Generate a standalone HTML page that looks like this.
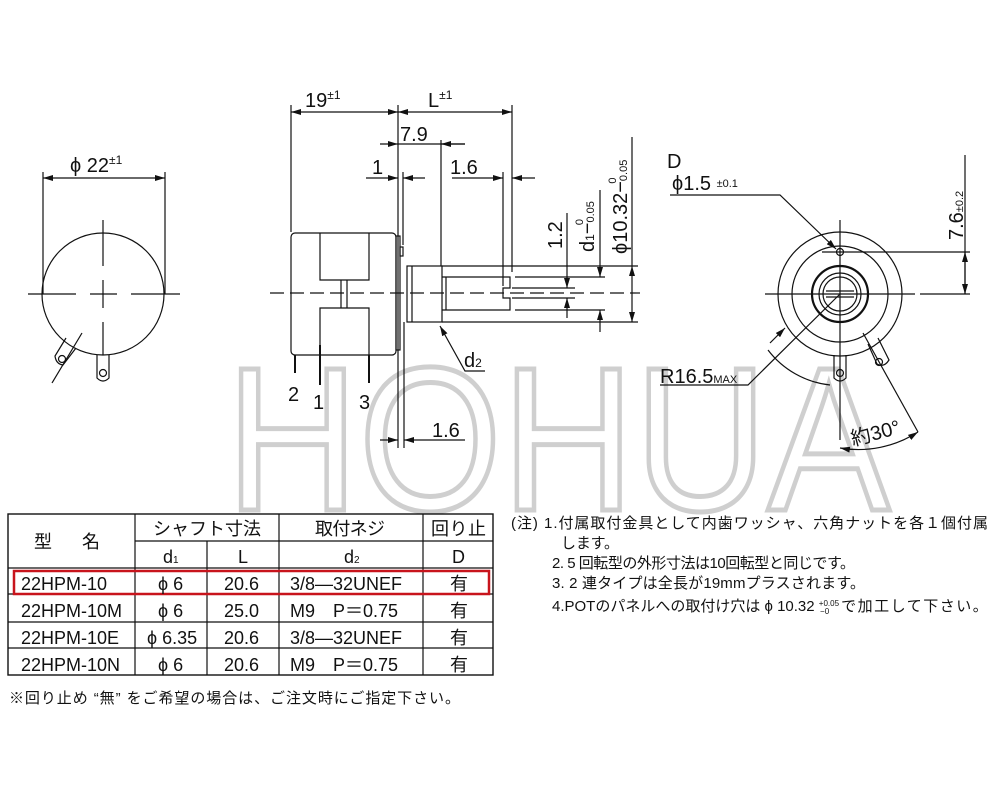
<!DOCTYPE html>
<html><head><meta charset="utf-8"><style>
html,body{margin:0;padding:0;background:#fff;width:1000px;height:800px;overflow:hidden}
svg{display:block}
text{font-family:"Liberation Sans","Noto Sans CJK JP",sans-serif;fill:#111}
</style></head><body>
<svg width="1000" height="800" viewBox="0 0 1000 800" xmlns="http://www.w3.org/2000/svg">
<defs>
<marker id="a" viewBox="0 0 10 6" refX="10" refY="3" markerWidth="10" markerHeight="6" orient="auto-start-reverse" markerUnits="userSpaceOnUse"><path d="M0,0 L10,3 L0,6z" fill="#111"/></marker>
</defs>
<!-- watermark -->
<text x="226" y="510" font-size="205" textLength="664" lengthAdjust="spacingAndGlyphs" style="fill:#fff;stroke:#cfcfcf;stroke-width:5">HOHUA</text>

<g stroke="#111" stroke-width="1.2" fill="none">
<!-- LEFT VIEW -->
<circle cx="103" cy="294" r="61"/>
<line x1="28" y1="294" x2="76" y2="294"/><line x1="90" y1="294" x2="117" y2="294"/><line x1="131" y1="294" x2="180" y2="294"/>
<line x1="103" y1="220" x2="103" y2="266"/><line x1="103" y1="280" x2="103" y2="308"/><line x1="103" y1="322" x2="103" y2="355"/>
<line x1="43" y1="172" x2="43" y2="294"/><line x1="165" y1="172" x2="165" y2="294"/>
<line x1="43" y1="178" x2="165" y2="178" marker-start="url(#a)" marker-end="url(#a)"/>
<path d="M97,355 V378 Q103,384 109,378 V355"/><circle cx="103" cy="373" r="3.5"/>
<path d="M66,338 L55,356 Q56,364 63,365 L76,348"/><circle cx="62" cy="359" r="3.5"/>
<line x1="82" y1="333" x2="52" y2="383"/>

<!-- SIDE VIEW -->
<line x1="291" y1="105" x2="291" y2="232"/>
<line x1="398" y1="105" x2="398" y2="448"/>
<line x1="512" y1="105" x2="512" y2="272"/>
<line x1="291" y1="112" x2="398" y2="112" marker-start="url(#a)" marker-end="url(#a)"/>
<line x1="398" y1="112" x2="512" y2="112" marker-start="url(#a)" marker-end="url(#a)"/>
<line x1="441" y1="140" x2="441" y2="266"/>
<line x1="380" y1="144" x2="398" y2="144" marker-end="url(#a)"/>
<line x1="398" y1="144" x2="465" y2="144"/>
<line x1="441" y1="144" x2="465" y2="144" marker-start="url(#a)"/>
<line x1="403" y1="172" x2="403" y2="245"/>
<line x1="366" y1="178" x2="398" y2="178" marker-end="url(#a)"/>
<line x1="425" y1="178" x2="403" y2="178" marker-end="url(#a)"/>
<line x1="503" y1="172" x2="503" y2="286"/>
<line x1="452" y1="178" x2="503" y2="178" marker-end="url(#a)"/>
<line x1="535" y1="178" x2="512" y2="178" marker-end="url(#a)"/>
<rect x="291" y="233" width="105" height="122" rx="4"/>
<path d="M320,233 V280 H369 V233 M320,355 V308 H369 V355 M341,280 V308 M347,280 V308"/>
<rect x="396" y="236" width="4" height="114"/>
<rect x="400" y="247" width="3" height="9"/>
<rect x="407" y="266" width="35" height="56"/>
<line x1="412" y1="266" x2="412" y2="322"/>
<path d="M442,277 H510 V288 H503 V298 H510 V310 H442"/>
<line x1="446" y1="277" x2="446" y2="310"/>
<line x1="515" y1="277" x2="605" y2="277"/><line x1="515" y1="310" x2="605" y2="310"/>
<line x1="512" y1="288" x2="575" y2="288"/><line x1="512" y1="298" x2="575" y2="298"/>
<line x1="442" y1="266" x2="638" y2="266"/><line x1="442" y1="322" x2="638" y2="322"/>
<line x1="270" y1="293" x2="640" y2="293" stroke-dasharray="14,6"/>
<line x1="567" y1="213" x2="567" y2="288" marker-end="url(#a)"/>
<line x1="567" y1="318" x2="567" y2="298" marker-end="url(#a)"/>
<line x1="600" y1="190" x2="600" y2="277" marker-end="url(#a)"/>
<line x1="600" y1="332" x2="600" y2="310" marker-end="url(#a)"/>
<line x1="632" y1="137" x2="632" y2="266"/>
<line x1="632" y1="266" x2="632" y2="322" marker-start="url(#a)" marker-end="url(#a)"/>
<path d="M485,371 H465 L440,326" marker-end="url(#a)"/>
<line x1="295" y1="355" x2="295" y2="373" stroke-width="2"/>
<line x1="320" y1="345" x2="320" y2="385" stroke-width="2"/>
<line x1="369" y1="355" x2="369" y2="383" stroke-width="2"/>
<line x1="404" y1="322" x2="404" y2="448"/>
<line x1="380" y1="440" x2="398" y2="440" marker-end="url(#a)"/>
<line x1="465" y1="440" x2="404" y2="440" marker-end="url(#a)"/>

<!-- RIGHT VIEW -->
<circle cx="840" cy="294" r="62"/><circle cx="840" cy="294" r="48"/>
<circle cx="840" cy="294" r="28" stroke-width="2.2"/><circle cx="840" cy="294" r="21"/><circle cx="840" cy="294" r="17"/>
<line x1="826" y1="291" x2="854" y2="291"/><line x1="826" y1="297" x2="854" y2="297"/>
<circle cx="840" cy="252" r="3.5"/>
<line x1="765" y1="294" x2="915" y2="294"/><line x1="920" y1="294" x2="970" y2="294"/>
<line x1="840" y1="220" x2="840" y2="440"/>
<line x1="822" y1="252" x2="970" y2="252"/>
<line x1="965" y1="155" x2="965" y2="294"/>
<line x1="965" y1="252" x2="965" y2="294" marker-start="url(#a)" marker-end="url(#a)"/>
<path d="M670,195 H780 L836,249" marker-end="url(#a)"/>
<path d="M660,385 H748 L840,294"/>
<line x1="770" y1="343" x2="785" y2="328" marker-end="url(#a)"/>
<path d="M768,350 A90,90 0 0 0 830,385"/>
<path d="M834,355 V378 Q840,384 846,378 V355"/><circle cx="840" cy="373" r="3.5"/>
<path d="M868,344 L877,364 Q884,368 889,360 L878,338"/><circle cx="879" cy="362" r="3.5"/>
<line x1="863" y1="333" x2="918" y2="432"/>
<path d="M840,448 A110,110 0 0 0 918,432" marker-start="url(#a)" marker-end="url(#a)"/>

<!-- TABLE -->
<rect x="8" y="514" width="485" height="161" stroke-width="1.4"/>
<line x1="135" y1="541" x2="493" y2="541"/>
<line x1="8" y1="568" x2="493" y2="568"/><line x1="8" y1="594" x2="493" y2="594"/>
<line x1="8" y1="622" x2="493" y2="622"/><line x1="8" y1="648" x2="493" y2="648"/>
<line x1="135" y1="514" x2="135" y2="675"/><line x1="207" y1="541" x2="207" y2="675"/>
<line x1="279" y1="514" x2="279" y2="675"/><line x1="423" y1="514" x2="423" y2="675"/>
<rect x="14" y="571" width="475" height="23" stroke="#c8141c" stroke-width="2.5"/>
</g>

<g font-size="20">
<text x="70" y="172">ϕ 22<tspan font-size="12" dy="-8">±1</tspan></text>
<text x="305" y="107">19<tspan font-size="12" dy="-8">±1</tspan></text>
<text x="428" y="107">L<tspan font-size="12" dy="-8">±1</tspan></text>
<text x="400" y="141">7.9</text>
<text x="372" y="174">1</text>
<text x="450" y="174">1.6</text>
<text x="288" y="401">2</text><text x="313" y="409">1</text><text x="359" y="409">3</text>
<text x="432" y="437">1.6</text>
<text x="464" y="367">d<tspan font-size="12">2</tspan></text>
<text transform="translate(562,249) rotate(-90)">1.2</text>
<text transform="translate(594,252) rotate(-90)">d<tspan font-size="12">1</tspan>−<tspan font-size="11">0.05</tspan><tspan font-size="11" dx="-24" dy="-11">0</tspan></text>
<text transform="translate(627,254) rotate(-90)">ϕ10.32−<tspan font-size="11">0.05</tspan><tspan font-size="11" dx="-24" dy="-11">0</tspan></text>
<text x="667" y="168">D</text>
<text x="672" y="190">ϕ1.5 <tspan font-size="11" dy="-3">±0.1</tspan></text>
<text transform="translate(963,240) rotate(-90)">7.6<tspan font-size="11">±0.2</tspan></text>
<text x="660" y="383">R16.5<tspan font-size="11">MAX</tspan></text>
<text transform="translate(853,446) rotate(-15)">約30°</text>
</g>

<g font-size="18">
<text x="34" y="548" letter-spacing="30">型名</text>
<text x="153" y="535" textLength="108">シャフト寸法</text>
<text x="315" y="535" textLength="70">取付ネジ</text>
<text x="431" y="535" textLength="55">回り止</text>
<text x="163" y="563">d<tspan font-size="10">1</tspan></text>
<text x="238" y="563">L</text>
<text x="344" y="563">d<tspan font-size="10">2</tspan></text>
<text x="452" y="563">D</text>
<text x="21" y="590">22HPM-10</text><text x="158" y="590">ϕ 6</text><text x="224" y="590">20.6</text><text x="290" y="590">3/8—32UNEF</text><text x="450" y="590">有</text>
<text x="21" y="617">22HPM-10M</text><text x="158" y="617">ϕ 6</text><text x="224" y="617">25.0</text><text x="290" y="617">M9　P＝0.75</text><text x="450" y="617">有</text>
<text x="21" y="644">22HPM-10E</text><text x="147" y="644">ϕ 6.35</text><text x="224" y="644">20.6</text><text x="290" y="644">3/8—32UNEF</text><text x="450" y="644">有</text>
<text x="21" y="671">22HPM-10N</text><text x="158" y="671">ϕ 6</text><text x="224" y="671">20.6</text><text x="290" y="671">M9　P＝0.75</text><text x="450" y="671">有</text>
</g>
<g font-size="15">
<text x="9" y="703" textLength="451">※回り止め “無” をご希望の場合は、ご注文時にご指定下さい。</text>
<text x="511" y="528" textLength="477">(注) 1.付属取付金具として内歯ワッシャ、六角ナットを各１個付属</text>
<text x="561" y="548" textLength="58">します。</text>
<text x="552" y="568" textLength="303">2. 5 回転型の外形寸法は10回転型と同じです。</text>
<text x="552" y="588" textLength="313">3. 2 連タイプは全長が19mmプラスされます。</text>
<text x="552" y="611">4.POTのパネルへの取付け穴は ϕ 10.32 <tspan font-size="8" dy="-5">+0.05</tspan><tspan font-size="8" dx="-19" dy="8">−0</tspan><tspan dy="-3" dx="12" letter-spacing="1.5">で加工して下さい。</tspan></text>
</g>
</svg>
</body></html>
